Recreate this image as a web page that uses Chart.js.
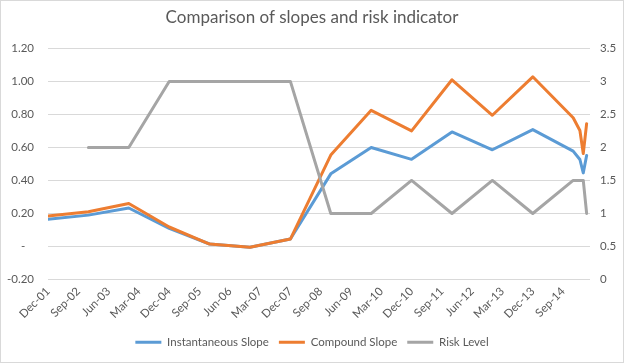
<!DOCTYPE html>
<html>
<head>
<meta charset="utf-8">
<script src="https://cdn.jsdelivr.net/npm/chart.js@4"></script>
<style>
  html, body { margin: 0; padding: 0; background: #fff; }
  #wrap { width: 624px; height: 363px; }
</style>
</head>
<body>
<div id="wrap"><canvas id="myChart" width="624" height="363"></canvas></div>
<script>
// observation dates (yearly, then a few months at the end)
let dates = ['Dec-01', 'Dec-02', 'Dec-03', 'Dec-04', 'Dec-05', 'Dec-06', 'Dec-07', 'Dec-08', 'Dec-09',
    'Dec-10', 'Dec-11', 'Dec-12', 'Dec-13', 'Dec-14', 'Feb-15', 'Mar-15', 'Apr-15'];

let instantSlope = [0.165, 0.19, 0.233, 0.11, 0.015, -0.005, 0.045, 0.44, 0.60,
    0.528, 0.694, 0.586, 0.708, 0.578, 0.527, 0.446, 0.551];
let compoundSlope = [0.185, 0.21, 0.26, 0.118, 0.015, -0.005, 0.045, 0.554, 0.825,
    0.70, 1.01, 0.795, 1.028, 0.78, 0.703, 0.563, 0.744];
let riskLevel = [null, 2, 2, 3, 3, 3, 3, 1, 1,
    1.5, 1, 1.5, 1, 1.5, 1.5, 1.5, 1];

let tickLabels = ['Dec-01', 'Sep-02', 'Jun-03', 'Mar-04', 'Dec-04', 'Sep-05', 'Jun-06', 'Mar-07', 'Dec-07',
    'Sep-08', 'Jun-09', 'Mar-10', 'Dec-10', 'Sep-11', 'Jun-12', 'Mar-13', 'Dec-13', 'Sep-14'];

let months = ['Jan', 'Feb', 'Mar', 'Apr', 'May', 'Jun', 'Jul', 'Aug', 'Sep', 'Oct', 'Nov', 'Dec'];

// months since Dec-01
function monthIndex(label) {
    let parts = label.split('-');
    let m = months.indexOf(parts[0]);
    let y = 2000 + parseInt(parts[1], 10);
    return (y * 12 + m) - (2001 * 12 + 11);
}

function monthLabel(idx) {
    let total = 2001 * 12 + 11 + Math.round(idx);
    let y = Math.floor(total / 12);
    return months[total % 12] + '-' + String(y % 100).padStart(2, '0');
}

function points(values) {
    return values.map((v, i) => ({ x: monthIndex(dates[i]), y: v }));
}

let textColor = '#595959';
let fontFamily = 'Lato, "Liberation Sans", sans-serif';

let chartBorder = {
    id: 'chartBorder',
    afterDraw(chart) {
        let ctx = chart.ctx;
        ctx.save();
        ctx.strokeStyle = '#d9d9d9';
        ctx.lineWidth = 1;
        ctx.strokeRect(0.5, 0.5, chart.width - 1, chart.height - 1);
        ctx.restore();
    }
};

let myChart = document.getElementById('myChart').getContext('2d');

let chart = new Chart(myChart, {
    type: 'line',
    data: {
        datasets: [{
            label: 'Instantaneous Slope',
            data: points(instantSlope),
            borderColor: '#5B9BD5',
            backgroundColor: '#5B9BD5',
            borderWidth: 3,
            yAxisID: 'y',
            order: 3
        }, {
            label: 'Compound Slope',
            data: points(compoundSlope),
            borderColor: '#ED7D31',
            backgroundColor: '#ED7D31',
            borderWidth: 3,
            yAxisID: 'y',
            order: 2
        }, {
            label: 'Risk Level',
            data: points(riskLevel),
            borderColor: '#A5A5A5',
            backgroundColor: '#A5A5A5',
            borderWidth: 3,
            yAxisID: 'y1',
            order: 1
        }]
    },
    options: {
        responsive: false,
        animation: false,
        layout: { padding: { top: 0, bottom: 5, left: 0, right: 0 } },
        elements: {
            line: { tension: 0, borderJoinStyle: 'round', borderCapStyle: 'round' },
            point: { radius: 0 }
        },
        scales: {
            x: {
                type: 'linear',
                min: 0,
                max: 161,
                afterBuildTicks: axis => {
                    axis.ticks = tickLabels.map(t => ({ value: monthIndex(t) }));
                },
                afterFit: axis => { axis.height = 47; },
                grid: { display: false, drawTicks: false },
                border: { display: false },
                ticks: {
                    autoSkip: false,
                    minRotation: 45,
                    maxRotation: 45,
                    padding: 5,
                    color: textColor,
                    font: { family: fontFamily, size: 11.5 },
                    callback: v => monthLabel(v)
                }
            },
            y: {
                position: 'left',
                min: -0.2,
                max: 1.2,
                afterFit: axis => { axis.width = 48; },
                grid: { color: '#d9d9d9', drawTicks: false },
                border: { display: false },
                ticks: {
                    stepSize: 0.2,
                    padding: 14,
                    color: textColor,
                    font: { family: fontFamily, size: 11.5 },
                    callback: v => Math.abs(v) < 1e-9 ? '-   ' : v.toFixed(2)
                }
            },
            y1: {
                position: 'right',
                min: 0,
                max: 3.5,
                afterFit: axis => { axis.width = 34; },
                grid: { display: false, drawTicks: false },
                border: { display: false },
                ticks: {
                    stepSize: 0.5,
                    padding: 10,
                    color: textColor,
                    font: { family: fontFamily, size: 11.5 },
                    callback: v => String(Math.round(v * 10) / 10)
                }
            }
        },
        plugins: {
            title: {
                display: true,
                text: 'Comparison of slopes and risk indicator',
                color: textColor,
                font: { family: fontFamily, size: 17, weight: 'normal' },
                padding: { top: 7, bottom: 21 }
            },
            legend: {
                position: 'bottom',
                labels: {
                    usePointStyle: true,
                    pointStyle: 'line',
                    pointStyleWidth: 26,
                    padding: 10,
                    color: textColor,
                    font: { family: fontFamily, size: 11.5 },
                    sort: (a, b) => a.datasetIndex - b.datasetIndex
                }
            },
            tooltip: { enabled: false }
        }
    },
    plugins: [chartBorder]
});
</script>
</body>
</html>
